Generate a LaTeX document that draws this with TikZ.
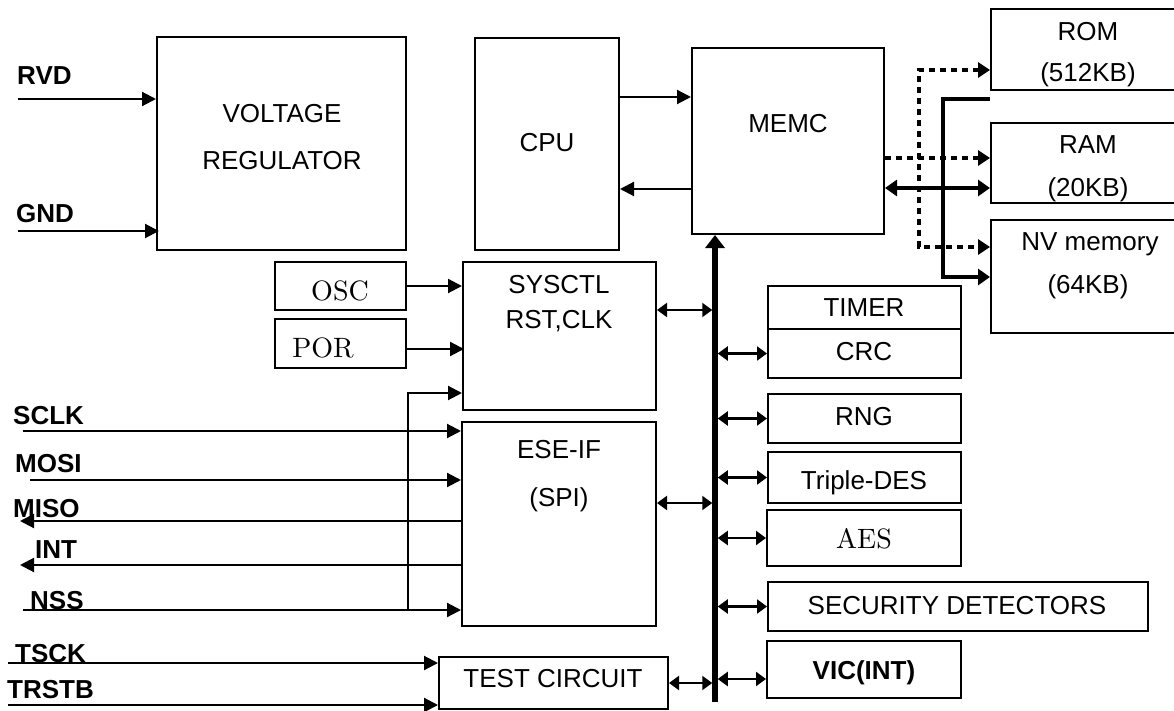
\documentclass[tikz,border=0pt]{standalone}
\usepackage{fontspec}
\setsansfont{Liberation Sans}
\newfontfamily\lmten{lmroman10-regular.otf}
\usetikzlibrary{arrows.meta}
\tikzset{
  box/.style={draw, line width=2pt, inner sep=0pt, anchor=center},
  lbl/.style={font=\sffamily\fontsize{26}{30}\selectfont, anchor=base, inner sep=0pt},
  blbl/.style={font=\sffamily\bfseries\fontsize{26}{30}\selectfont, anchor=base, inner sep=0pt},
  slbl/.style={font=\lmten\fontsize{28}{33}\selectfont, anchor=base, inner sep=0pt},
  pinlbl/.style={font=\sffamily\bfseries\fontsize{26}{30}\selectfont, anchor=base west, inner sep=0pt},
  sarr/.style={line width=2.1pt, -{Triangle[length=14pt,width=14pt]}},
  darr/.style={line width=2.1pt, {Triangle[length=10pt,width=14pt]}-{Triangle[length=10pt,width=14pt]}},
  busline/.style={line width=5.5pt, -{Triangle[length=13pt,width=19pt]}},
  memarr/.style={line width=4pt, -{Triangle[length=12pt,width=16pt]}},
  memdarr/.style={line width=4pt, {Triangle[length=12pt,width=16pt]}-{Triangle[length=12pt,width=16pt]}},
  dotl/.style={line width=4pt, dash pattern=on 6pt off 5pt, {Triangle[length=12pt,width=15pt]}-{Triangle[length=12pt,width=15pt]}},
  dotarr/.style={line width=4pt, dash pattern=on 6pt off 5pt, -{Triangle[length=12pt,width=15pt]}}
}
\begin{document}
\begin{tikzpicture}[x=1pt,y=-1pt]
\useasboundingbox (0,0) rectangle (1174,711);
\clip (0,0) rectangle (1174,711);
\fill[white] (0,0) rectangle (1174,711);

% ---------- boxes ----------
\node[box, minimum width=249pt, minimum height=213pt] (vr) at (281.5,143.5) {};
\node[box, minimum width=131pt, minimum height=48pt] (osc) at (340.5,286) {};
\node[box, minimum width=131pt, minimum height=49pt] (por) at (340.5,343.5) {};
\node[box, minimum width=144pt, minimum height=212pt] (cpu) at (547,144) {};
\node[box, minimum width=192pt, minimum height=186pt] (memc) at (788,141) {};
\node[box, minimum width=193pt, minimum height=148pt] (sysctl) at (559.5,336) {};
\node[box, minimum width=194pt, minimum height=204pt] (ese) at (559,524) {};
\node[box, minimum width=229pt, minimum height=52pt] (test) at (553.5,683) {};
\node[box, minimum width=193pt, minimum height=43pt] (timer) at (864.5,307.5) {};
\node[box, minimum width=193pt, minimum height=49pt] (crc) at (864.5,353.5) {};
\node[box, minimum width=193pt, minimum height=49pt] (rng) at (864.5,418.5) {};
\node[box, minimum width=193pt, minimum height=51pt] (tdes) at (864.5,477.5) {};
\node[box, minimum width=194pt, minimum height=56pt] (aes) at (864,538) {};
\node[box, minimum width=380pt, minimum height=49pt] (sec) at (958,606.5) {};
\node[box, minimum width=194pt, minimum height=57pt] (vic) at (864,669.5) {};
\node[box, minimum width=199pt, minimum height=81pt] (rom) at (1090.5,49.5) {};
\node[box, minimum width=199pt, minimum height=80pt] (ram) at (1090.5,163) {};
\node[box, minimum width=199pt, minimum height=113pt] (nv) at (1090.5,276.5) {};

% ---------- box texts ----------
\node[lbl] (tvr1) at (282,123) {VOLTAGE};
\node[lbl] (tvr2) at (282,170) {REGULATOR};
\node[slbl] (tosc) at (340,300) {OSC};
\node[slbl] (tpor) at (323,357) {POR};
\node[lbl] (tcpu) at (547,152) {CPU};
\node[lbl] (tmemc) at (788,133) {MEMC};
\node[lbl] (tsys1) at (559,293) {SYSCTL};
\node[lbl] (tsys2) at (559,328) {RST,CLK};
\node[lbl] (tese1) at (559,458) {ESE-IF};
\node[lbl] (tese2) at (559,506) {(SPI)};
\node[lbl] (ttest) at (553,687) {TEST CIRCUIT};
\node[lbl] (ttimer) at (864,316) {TIMER};
\node[lbl] (tcrc) at (864,360) {CRC};
\node[lbl] (trng) at (864,425) {RNG};
\node[lbl] (ttdes) at (864,489) {Triple-DES};
\node[slbl] (taes) at (864,548) {AES};
\node[lbl] (tsec) at (957,614) {SECURITY DETECTORS};
\node[blbl] (tvic) at (864,679) {VIC(INT)};
\node[lbl] (trom1) at (1088,41) {ROM};
\node[lbl] (trom2) at (1088,82) {(512KB)};
\node[lbl] (tram1) at (1088,154) {RAM};
\node[lbl] (tram2) at (1088,197) {(20KB)};
\node[lbl] (tnv1) at (1090,251) {NV memory};
\node[lbl] (tnv2) at (1088,293) {(64KB)};

% ---------- pin labels ----------
\node[pinlbl] (lrvd) at (17,85) {RVD};
\node[pinlbl] (lgnd) at (16,223) {GND};
\node[pinlbl] (lsclk) at (13,424) {SCLK};
\node[pinlbl] (lmosi) at (15,472) {MOSI};
\node[pinlbl] (lmiso) at (13,517) {MISO};
\node[pinlbl] (lint) at (35,558) {INT};
\node[pinlbl] (lnss) at (30,609) {NSS};
\node[pinlbl] (ltsck) at (15,662) {TSCK};
\node[pinlbl] (ltrstb) at (7,698) {TRSTB};

% ---------- free ends ----------
\coordinate (prvd) at (18,99);
\coordinate (pgnd) at (18,231);
\coordinate (psclk) at (23,431);
\coordinate (pmosi) at (30,480);
\coordinate (pmiso) at (20,521);
\coordinate (pint) at (20,565);
\coordinate (pnss) at (23,610);
\coordinate (jnss) at (408,610);
\coordinate (jtop) at (408,393);
\coordinate (ptsck) at (8,663);
\coordinate (ptrstb) at (8,705);
\coordinate (busB) at (715,702);

% ---------- power and clock inputs ----------
\draw[sarr] (prvd) -- (prvd -| vr.west);
\draw[sarr] (pgnd) -- ([xshift=3pt]pgnd -| vr.west);
\draw[sarr] (osc.east) -- (osc.east -| sysctl.west);
\coordinate (porOut) at ([yshift=-5.5pt]por.east);
\draw[sarr] (porOut) -- ([xshift=2pt]porOut -| sysctl.west);

% ---------- CPU / MEMC ----------
\coordinate (c2m) at ([yshift=47pt]cpu.east);
\draw[sarr] (c2m) -- (c2m -| memc.west);
\coordinate (m2c) at ([yshift=-48pt]memc.west);
\draw[sarr] (m2c) -- (m2c -| cpu.east);

% ---------- bus ----------
\draw[busline] (busB) -- (busB |- memc.south);
\coordinate (s2b) at ([yshift=26pt]sysctl.east);
\draw[darr, shorten >=2.75pt] (s2b) -- (s2b -| busB);
\coordinate (e2b) at ([yshift=21pt]ese.east);
\draw[darr, shorten >=2.75pt] (e2b) -- (e2b -| busB);
\draw[darr, shorten >=2.75pt] (test.east) -- (test.east -| busB);
\draw[darr, shorten <=2.75pt] (crc.west -| busB) -- (crc.west);
\draw[darr, shorten <=2.75pt] (rng.west -| busB) -- (rng.west);
\draw[darr, shorten <=2.75pt] (tdes.west -| busB) -- (tdes.west);
\draw[darr, shorten <=2.75pt] (aes.west -| busB) -- (aes.west);
\draw[darr, shorten <=2.75pt] (sec.west -| busB) -- (sec.west);
\coordinate (vicIn) at ([yshift=-9.5pt]vic.west);
\draw[darr, shorten <=2.75pt] (vicIn -| busB) -- (vicIn);

% ---------- SPI pins ----------
\draw[sarr] (psclk) -- (psclk -| ese.west);
\draw[sarr] (pmosi) -- (pmosi -| ese.west);
\draw[sarr] (pmiso -| ese.west) -- (pmiso);
\draw[sarr] (pint -| ese.west) -- (pint);
\draw[sarr] (pnss) -- (pnss -| ese.west);
\draw[sarr] (jnss) -- (jtop) -- (jtop -| sysctl.west);

% ---------- test pins ----------
\draw[sarr] (ptsck) -- (ptsck -| test.west);
\draw[sarr] (ptrstb) -- (ptrstb -| test.west);

% ---------- memory connections ----------
\coordinate (dR) at ([yshift=-17pt]memc.east);
\draw[dotarr] (dR) -- (dR -| ram.west);
\coordinate (dTop) at (919,70);
\coordinate (dBot) at (919,247);
\draw[dotl] (dTop -| rom.west) -- (dTop) -- (dBot) -- (dBot -| nv.west);
\coordinate (sTop) at (990,99);
\coordinate (sBot) at (943,277);
\draw[memarr] (sTop) -| (sBot) -- (sBot -| nv.west);
\coordinate (rm) at ([yshift=-47pt]memc.east);
\draw[memdarr] (rm) -- (rm -| ram.west);
\end{tikzpicture}
\end{document}
